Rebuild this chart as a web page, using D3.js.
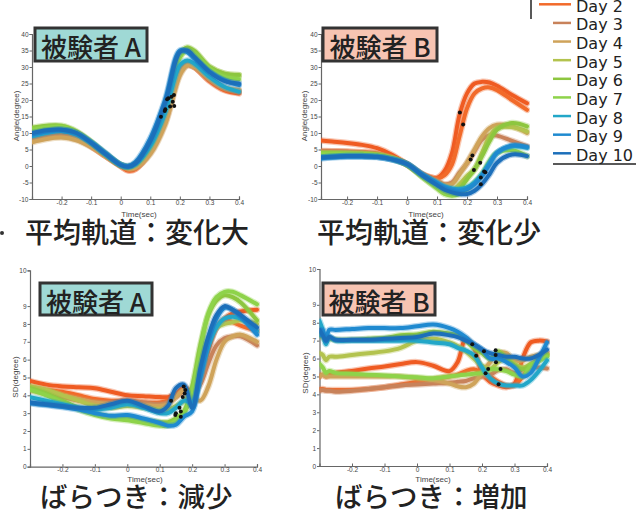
<!DOCTYPE html>
<html><head><meta charset="utf-8">
<script src="https://cdn.jsdelivr.net/npm/d3@7"></script>
<style>body{margin:0;background:#fff}svg{display:block}</style>
</head><body><svg id="c" width="636" height="510"></svg>
<script>
// ---------- data ----------
const days = ["Day 1","Day 2","Day 3","Day 4","Day 5","Day 6","Day 7","Day 8","Day 9","Day 10"];
const dayColors = ["#ef5b22","#f26a2a","#c8825a","#cfa35a","#b3c34e","#8dc63f","#8ed34a","#22a7c8","#1f8ad0","#1c6fba"];

const angleTicks = [-10,-5,0,5,10,15,20,25,30,35,40];
const angleTickLabels = ["-10","-5","0","5","10","15","20","25","30","35","40"];
const sdTicks = [0,1,2,3,4,5,6,7,8,9,11];
const sdTickLabels = ["0","1","2","3","4","5","6","7","8","9","10"];
const timeTicks = [-0.2,-0.1,0,0.1,0.2,0.3,0.4];
const timeTickLabels = ["-0.2","-0.1","0","0.1","0.2","0.3","0.4"];

// Subject A, mean trajectory
const tMeanA = [-0.3,-0.25,-0.2,-0.15,-0.1,-0.05,0,0.025,0.05,0.1,0.15,0.2,0.225,0.25,0.3,0.35,0.4];
const meanA = [
  [8.2,9.2,9.6,8.6,6.1,3,0,-1.4,-0.9,4.5,14,28.5,30.8,30,25.8,23,22],
  [8,9,9.4,8.4,6,3,0,-1.2,-0.8,4.8,14.5,29,31,30,26,23.2,22.3],
  [7.6,8.6,9,8.1,6,3,0.2,-0.8,-0.5,4,13,28,30.5,30,26.2,23.5,22.8],
  [7.2,8.2,8.6,7.8,5.8,3,0.2,-0.8,-0.5,3.6,12.5,27.5,30.5,30,26.5,23.8,23],
  [11.2,11.8,11.8,10.2,7.2,3.5,0.3,-0.3,0.5,6,17,33,35.5,34.5,30,28,27.5],
  [11.6,12.2,12.2,10.5,7.3,3.6,0.3,-0.2,0.8,6.8,18,34,35.9,34.8,30,28,27.6],
  [11,11.7,11.8,10.2,7.1,3.5,0.3,-0.3,0.6,6.5,17.5,33,35,33.8,29.5,27,26.3],
  [9,10,10.5,9.5,7,3.5,0.3,-0.3,0.5,6,16,30.5,32,31,27,24,22.5],
  [9.5,10.5,11,10,7.2,3.8,0.4,0,1.2,8.4,20,35,34.5,32.5,28.6,26,24.5],
  [10,10.8,11,10,7,3.5,0.3,-0.2,0.8,7.5,19,34.5,35,33,28.5,25.8,25]
];
const dotMeanA_t = [0.176,0.181,0.167,0.180,0.172,0.161,0.151,0.149,0.136,0.157];
const dotMeanA_v = [19.5,18.2,18,21.5,21,20.5,17.2,16.7,14.9,20.2];

// Subject B, mean trajectory
const tMeanB = [-0.3,-0.25,-0.2,-0.15,-0.1,-0.05,0,0.05,0.1,0.125,0.15,0.175,0.2,0.225,0.25,0.275,0.3,0.35,0.4];
const meanB = [
  [7.8,7.4,7,6.4,5.4,3.4,0.5,-2.6,-3.6,-1.5,4,15.5,22,25,25.5,25.3,24.3,21.5,19],
  [4.6,4.5,4.4,4.2,3.8,2.6,0.5,-2.4,-3.8,-2.8,0.5,9,17.5,22,23.5,23.8,23,20,17],
  [4.5,4.4,4.3,4.1,3.6,2.5,0.5,-2.5,-4.5,-5.5,-5,-2,0.8,4.5,8,9.3,9.2,7.6,6],
  [4,3.9,3.8,3.7,3.4,2.4,0.5,-2.6,-4.8,-5.8,-5.5,-2.5,1,5,9,11.5,12.5,12,10],
  [3.8,3.8,3.7,3.6,3.3,2.3,0.5,-3,-6,-7.5,-7.5,-5.5,-3,-1,4,9,11.5,11.8,10.5],
  [3.9,3.9,3.8,3.7,3.4,2.4,0.5,-3.2,-6.5,-8,-8.5,-7,-4,-1,3,7.5,11,13,12],
  [3.7,3.7,3.6,3.5,3.2,2.2,0.4,-3.2,-6.8,-8.5,-9,-8.5,-7,-5,-2.5,1.5,4,4.8,3],
  [2.5,2.8,3,3,2.8,2,0.5,-2.5,-5,-6.2,-6.8,-7,-6.5,-5,-2.5,1,4,6,5.5],
  [2.2,2.6,2.8,2.8,2.7,2,0.6,-2.5,-5.2,-6.5,-7.2,-7.5,-7,-5.5,-3,0.5,4,6.2,5.8],
  [2.5,2.8,3,3,2.8,2,0.6,-2.8,-5.8,-7.2,-8,-8.5,-8.5,-7.5,-5.5,-2.5,1,3.5,3]
];
const dotMeanB_t = [0.176,0.187,0.212,0.218,0.223,0.244,0.246,0.257,0.261,0.246];
const dotMeanB_v = [16.2,12.6,2.0,3.2,-1.2,1.0,-3.5,-1.7,-1.9,-5.5];

// Subject A, SD
const tSdA = [-0.3,-0.25,-0.2,-0.15,-0.1,-0.05,0,0.05,0.1,0.125,0.15,0.175,0.2,0.225,0.25,0.275,0.3,0.325,0.35,0.4];
const sdA = [
  [4.8,4.6,4.5,4.45,4.4,4.2,4.0,3.95,3.9,3.9,4.1,4.45,4.2,4.8,6.5,7.8,8.3,8.6,8.7,8.8],
  [4.4,4.3,4.2,4.0,3.8,3.7,3.7,3.6,3.6,3.7,4.0,4.3,4.0,5.2,6.8,7.8,8.2,8.1,7.9,7.6],
  [4.3,4.1,3.9,3.7,3.6,3.6,3.7,3.6,3.5,3.6,3.9,4.2,4.0,4.6,5.8,6.8,7.2,7.3,7.3,6.8],
  [4.5,4.3,4.0,3.8,3.6,3.5,3.5,3.45,3.4,3.5,3.9,4.3,3.9,3.7,4.5,6.0,7.0,7.3,7.4,7.0],
  [4.5,4.3,4.0,3.7,3.4,3.3,3.4,3.3,3.2,3.2,3.4,3.7,4.3,6.0,7.2,7.8,8.0,8.1,8.2,8.0],
  [4.4,4.1,3.7,3.3,3.0,2.8,2.8,2.6,2.5,2.5,2.7,3.1,4.5,6.8,8.5,9.3,9.6,9.5,9.2,8.2],
  [4.3,4.0,3.6,3.2,2.9,2.7,2.6,2.45,2.3,2.3,2.6,3.0,4.2,6.5,8.6,9.5,9.8,9.8,9.6,9.1],
  [3.9,3.7,3.5,3.3,3.2,3.3,3.5,3.3,3.0,3.0,3.3,3.7,3.6,5.0,6.7,7.8,8.3,8.4,8.3,7.6],
  [3.55,3.45,3.35,3.2,3.0,2.85,2.9,2.7,2.45,2.3,2.35,2.8,3.1,5.0,7.0,8.3,8.9,8.8,8.4,7.4],
  [3.6,3.5,3.4,3.3,3.3,3.5,3.7,3.4,3.1,3.4,4.4,4.6,3.3,5.5,7.3,8.5,9.0,8.8,8.5,7.8]
];
const dotSdA_t = [0.179,0.174,0.177,0.171,0.161,0.150,0.148,0.165,0.165,0.135];
const dotSdA_v = [4.3,4.5,4.1,3.9,3.3,3.0,2.9,2.8,3.1,3.7];

// Subject B, SD
const tSdB = [-0.3,-0.29,-0.28,-0.27,-0.25,-0.2,-0.15,-0.1,-0.05,0,0.05,0.1,0.125,0.15,0.175,0.2,0.225,0.25,0.275,0.3,0.325,0.35,0.375,0.4];
const sdB = [
  [5.0,5.1,5.0,5.1,5.2,5.3,5.45,5.55,5.7,5.8,5.6,5.3,5.8,7.1,6.6,5.2,4.7,4.5,4.4,4.6,6.0,6.9,7.0,6.95],
  [4.3,4.3,4.25,4.25,4.25,4.25,4.3,4.4,4.55,4.7,4.85,5.0,5.1,5.3,5.4,5.2,5.0,4.7,4.5,4.5,5.0,5.6,6.0,6.3],
  [4.2,4.25,4.2,4.2,4.15,4.2,4.3,4.4,4.5,4.55,4.6,4.65,4.7,4.75,4.9,5.0,5.1,5.35,5.4,5.2,5.4,5.5,5.5,5.45],
  [5.0,5.1,5.0,5.0,5.0,5.0,5.0,5.0,5.0,4.9,4.8,4.6,4.45,4.4,4.6,5.2,5.8,6.3,6.3,5.9,5.9,6.1,6.2,6.3],
  [6.3,6.2,5.9,6.1,6.1,6.2,6.3,6.4,6.6,7.0,7.1,6.9,6.7,6.4,6.0,5.6,5.4,5.8,6.0,5.7,5.5,5.7,5.9,6.2],
  [7.3,7.2,7.0,7.1,7.05,7.05,7.1,7.15,7.3,7.35,7.5,7.4,7.3,7.0,6.6,6.3,6.0,6.4,6.0,5.6,5.4,5.6,5.9,6.2],
  [5.7,5.5,5.2,5.3,5.2,5.15,5.1,5.05,5.0,4.95,4.9,5.0,5.05,5.1,5.15,5.2,5.4,5.4,5.3,5.1,5.0,5.6,5.9,6.1],
  [8.1,7.6,6.8,7.2,7.0,7.0,7.0,7.0,7.0,7.0,6.9,6.8,6.6,6.45,6.2,5.5,4.9,4.6,4.5,4.5,4.5,4.8,5.3,5.9],
  [7.3,7.6,7.0,7.6,7.6,7.65,7.7,7.7,7.7,7.8,7.9,7.7,7.5,7.2,6.8,6.5,6.0,6.0,5.8,5.5,5.0,5.2,6.0,6.9],
  [7.6,7.3,7.0,7.2,7.05,7.05,7.05,7.1,7.15,7.2,7.4,7.3,7.2,7.0,6.8,6.5,6.3,6.2,6.1,6.1,6.0,6.0,6.2,6.5]
];
const dotSdB_t = [0.251,0.211,0.257,0.242,0.243,0.242,0.219,0.182,0.206,0.170];
const dotSdB_v = [4.56,5.18,5.42,6.20,5.79,6.46,5.42,6.15,6.41,6.80];

const titles = ["被験者 A","被験者 B","被験者 A","被験者 B"];
const subtitles = ["平均軌道：変化大","平均軌道：変化少","ばらつき：減少","ばらつき：増加"];

// ---------- layout ----------
const panels = [
  {t:tMeanA, vals:meanA, dt:dotMeanA_t, dv:dotMeanA_v, xd:[-0.3,0.4], xr:[32,239], yd:[-10,40], yr:[199,34],
   yt:angleTicks, ytl:angleTickLabels, ylab:"Angle(degree)", ylx:16, yly:116, tx:139, ty:214,
   fill:"#9fd9d5", box:[35,28,112,33], sx:25, sy:231, fs:28},
  {t:tMeanB, vals:meanB, dt:dotMeanB_t, dv:dotMeanB_v, xd:[-0.287,0.4], xr:[321,527], yd:[-10,40], yr:[199,34],
   yt:angleTicks, ytl:angleTickLabels, ylab:"Angle(degree)", ylx:304, yly:116, tx:426, ty:214,
   fill:"#f7c4b2", box:[323,28,114,33], sx:317, sy:231, fs:28},
  {t:tSdA, vals:sdA, dt:dotSdA_t, dv:dotSdA_v, xd:[-0.3,0.4], xr:[30,257], yd:[0,11], yr:[466.7,270.4],
   yt:sdTicks, ytl:sdTickLabels, ylab:"SD(degree)", ylx:15, yly:377, tx:145, ty:479.5,
   fill:"#9fd9d5", box:[40,283,112,32], sx:40, sy:495, fs:27.5},
  {t:tSdB, vals:sdB, dt:dotSdB_t, dv:dotSdB_v, xd:[-0.3,0.4], xr:[319.5,547], yd:[0,11], yr:[466,269],
   yt:sdTicks, ytl:sdTickLabels, ylab:"SD(degree)", ylx:305, yly:373, tx:433, ty:479.5,
   fill:"#f7c4b2", box:[323,283,112,32], sx:335, sy:495, fs:27.5}
];

const svg = d3.select("#c");
const defs = svg.append("defs");
const tickFont = "Liberation Sans, Arial, sans-serif";
const cjk = "'Noto Sans CJK JP','Noto Sans CJK SC',sans-serif";

panels.forEach((p, pi) => {
  const x = d3.scaleLinear().domain(p.xd).range(p.xr);
  const y = d3.scaleLinear().domain(p.yd).range(p.yr);
  const g = svg.append("g");

  defs.append("clipPath").attr("id","clip"+pi).append("rect")
    .attr("x", p.xr[0]).attr("y", p.yr[1]-10).attr("width", p.xr[1]-p.xr[0]+3).attr("height", p.yr[0]-p.yr[1]+10);

  // axes
  const xAxis = d3.axisBottom(x).tickValues(timeTicks).tickFormat((d,i)=>timeTickLabels[i]).tickSize(-2.5).tickPadding(1);
  const yAxis = d3.axisLeft(y).tickValues(p.yt).tickFormat((d,i)=>p.ytl[i]).tickSize(2.5).tickPadding(1);
  const gx = g.append("g").attr("transform",`translate(0,${p.yr[0]})`).call(xAxis);
  const gy = g.append("g").attr("transform",`translate(${p.xr[0]},0)`).call(yAxis);
  [gx,gy].forEach(a=>{
    a.select(".domain").attr("stroke","#666").attr("stroke-width",1.2);
    a.selectAll(".tick line").attr("stroke","#666");
    a.selectAll("text").attr("font-family",tickFont).attr("font-size",6.5).attr("fill","#444");
  });

  // axis labels
  g.append("text").attr("x",p.tx).attr("y",p.ty).attr("text-anchor","middle").attr("dominant-baseline","central")
    .attr("font-family",tickFont).attr("font-size",8).attr("fill","#444").text("Time(sec)");
  g.append("text").attr("transform",`translate(${p.ylx},${p.yly}) rotate(-90)`).attr("text-anchor","middle")
    .attr("dominant-baseline","central").attr("font-family",tickFont).attr("font-size",8).attr("fill","#444").text(p.ylab);

  // lines
  const line = d3.line().x(d=>x(d[0])).y(d=>y(d[1])).curve(d3.curveCatmullRom.alpha(0.5));
  const lg = g.append("g").attr("clip-path",`url(#clip${pi})`);
  p.vals.forEach((vals, di) => {
    const pts = p.t.map((t,i)=>[t, vals[i]]);
    lg.append("path").attr("d", line(pts)).attr("fill","none")
      .attr("stroke", dayColors[di]).attr("stroke-opacity",0.35).attr("stroke-width",6.5)
      .attr("stroke-linejoin","round").attr("stroke-linecap","round");
    lg.append("path").attr("d", line(pts)).attr("fill","none")
      .attr("stroke", dayColors[di]).attr("stroke-width",4)
      .attr("stroke-linejoin","round").attr("stroke-linecap","round");
  });
  // dots
  p.dt.forEach((t,i)=>{
    lg.append("circle").attr("cx",x(t)).attr("cy",y(p.dv[i])).attr("r",2).attr("fill","#111");
  });

  // title box
  const [bx,by,bw,bh] = p.box;
  g.append("rect").attr("x",bx).attr("y",by).attr("width",bw).attr("height",bh)
    .attr("fill",p.fill).attr("stroke","#333").attr("stroke-width",3);
  g.append("text").attr("x",bx+bw/2).attr("y",by+bh/2+1).attr("text-anchor","middle").attr("dominant-baseline","central")
    .attr("font-family",cjk).attr("font-weight",500).attr("font-size",26).attr("fill","#222").text(titles[pi]);

  // subtitle
  g.append("text").attr("x",p.sx).attr("y",p.sy).attr("dominant-baseline","central")
    .attr("font-family",cjk).attr("font-weight",500).attr("font-size",p.fs).attr("fill","#222").text(subtitles[pi]);
});

// stray mark at left of first subtitle
svg.append("circle").attr("cx",2).attr("cy",233).attr("r",2).attr("fill","#333");

// legend (Day 1 entry lies above the visible frame, as in the cropped original)
const legY = d3.scaleLinear().domain([2,10]).range([4.3,153.3]);
const leg = svg.append("g");
leg.append("line").attr("x1",531).attr("x2",531).attr("y1",0).attr("y2",19).attr("stroke","#222").attr("stroke-width",1.5);
leg.append("line").attr("x1",553).attr("x2",636).attr("y1",164).attr("y2",164).attr("stroke","#222").attr("stroke-width",1.5);
days.forEach((d,i)=>{
  const n = i+1, yy = legY(n);
  if (yy < -12) return;
  leg.append("line").attr("x1", n<=2?539:553).attr("x2",571).attr("y1",yy).attr("y2",yy)
    .attr("stroke",dayColors[i]).attr("stroke-width",2.5);
  leg.append("text").attr("x",576).attr("y",yy+2).attr("dominant-baseline","central")
    .attr("font-family","DejaVu Sans, sans-serif").attr("font-size",16).attr("fill","#222").text(d);
});
</script>
</body></html>
